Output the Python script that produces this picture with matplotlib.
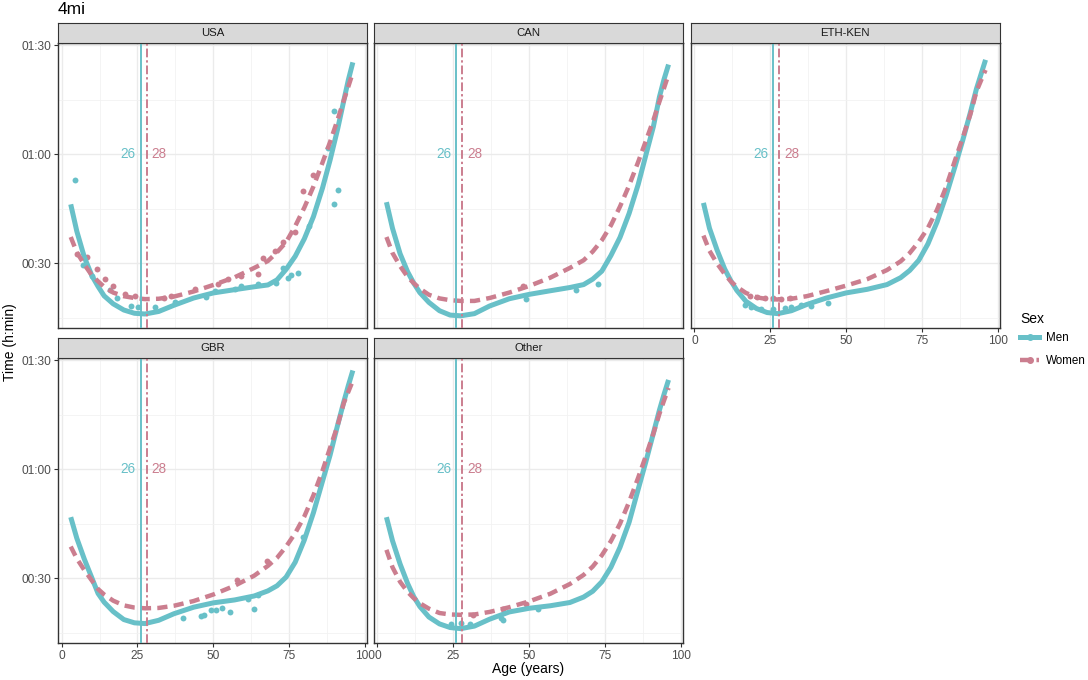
import matplotlib.pyplot as plt
from matplotlib.lines import Line2D

plt.rcParams['font.family'] = ['Liberation Sans', 'DejaVu Sans']

# facets, in the order they are drawn
panels = ['USA', 'CAN', 'ETH-KEN', 'GBR', 'Other']

# fitted curves, time in minutes
curve_age = [3, 5, 7.5, 10, 12, 14, 17, 20.5, 24, 27.5, 32, 37, 43.5, 50, 57, 63.5,
             68, 71, 74, 77, 80, 83, 86, 88.5, 91, 93, 94.5, 96]

usa_men = [46.2, 38.8, 31.6, 26.5, 23.6, 21.0, 18.8, 17.1, 16.2, 16.0, 16.7, 18.4, 20.4, 21.8,
           22.7, 23.5, 24.0, 25.4, 28.3, 31.9, 36.7, 42.8, 50.7, 58.4, 67.0, 74.7, 80.4, 85.3]
usa_women = [37.2, 33.0, 29.6, 26.6, 25.0, 23.5, 21.9, 20.9, 20.4, 20.1, 20.2, 20.8, 22.2, 24.0,
             26.1, 28.7, 30.6, 33.0, 35.8, 40.2, 45.3, 51.1, 57.7, 63.4, 69.6, 74.8, 78.6, 82.5]
can_men = [46.8, 39.6, 32.6, 27.6, 24.5, 21.9, 19.2, 16.9, 15.7, 15.5, 16.1, 18.2, 20.2, 21.4,
           22.4, 23.3, 24.1, 25.6, 27.8, 32.1, 37.1, 43.7, 51.7, 59.7, 67.6, 75.8, 80.6, 84.7]
can_women = [37.2, 32.8, 29.2, 26.2, 24.5, 23.0, 21.3, 20.3, 19.8, 19.6, 19.6, 20.4, 21.9, 23.7,
             26.0, 28.7, 30.8, 33.2, 36.3, 40.4, 45.6, 51.4, 57.9, 63.6, 69.4, 74.5, 78.2, 82.0]
eth_men = [46.6, 39.6, 33.6, 28.4, 25.2, 22.5, 19.5, 17.5, 16.4, 16.1, 16.9, 18.6, 20.4, 21.8,
           22.8, 24.1, 26.0, 28.0, 30.8, 35.3, 41.3, 48.6, 56.8, 63.9, 71.5, 78.0, 82.0, 86.0]
eth_women = [37.6, 33.4, 29.9, 27.0, 25.0, 23.5, 21.8, 20.6, 20.1, 20.0, 20.2, 20.9, 22.3, 23.8,
             25.6, 28.1, 30.5, 32.8, 35.9, 39.7, 44.7, 51.0, 58.5, 64.6, 71.0, 77.3, 80.3, 83.2]
gbr_men = [46.8, 41.0, 35.2, 30.0, 25.8, 23.4, 20.8, 18.6, 17.7, 17.5, 18.4, 20.2, 22.0, 23.2,
           24.0, 25.1, 26.5, 27.9, 30.3, 34.4, 40.5, 48.0, 56.7, 63.9, 72.2, 78.5, 83.0, 87.2]
gbr_women = [38.7, 35.4, 32.2, 29.3, 27.0, 25.5, 23.8, 22.5, 21.9, 21.7, 21.8, 22.4, 23.7, 25.5,
             27.9, 30.7, 33.4, 35.6, 38.7, 42.4, 47.0, 52.8, 59.6, 65.9, 72.1, 78.2, 81.3, 84.4]
oth_men = [46.8, 40.3, 33.9, 28.5, 24.9, 22.2, 19.3, 17.4, 16.4, 16.1, 16.8, 18.7, 20.7, 21.7,
           22.4, 23.3, 24.8, 26.4, 29.0, 33.0, 38.5, 45.4, 54.5, 62.0, 69.9, 76.3, 80.6, 84.6]
oth_women = [37.8, 33.0, 29.0, 26.2, 24.5, 23.1, 21.6, 20.4, 20.0, 19.9, 20.0, 20.7, 22.0, 23.6,
             25.7, 28.4, 30.9, 33.2, 36.3, 40.2, 45.0, 51.0, 57.7, 63.6, 69.8, 75.3, 78.9, 82.4]

# observed points (age, minutes)
usa_men_age = [4.4, 7.1, 9.9, 15.9, 18.1, 23.0, 25.2, 30.7, 37.3, 47.7, 50.4, 57.0, 59.2, 64.7,
               70.7, 72.9, 74.5, 75.6, 77.8, 81.7, 87.7, 89.7, 91.0, 89.9]
usa_men_time = [53.0, 29.6, 26.5, 22.6, 20.5, 18.3, 18.0, 17.8, 19.2, 20.7, 22.3, 22.8, 23.6, 24.2,
                24.5, 28.7, 25.9, 26.8, 27.3, 40.2, 61.8, 71.9, 50.1, 46.3]
usa_women_age = [4.9, 8.2, 11.5, 14.2, 17.0, 20.8, 24.1, 33.9, 36.1, 43.8, 51.5, 54.8, 59.2, 64.7,
                 66.3, 70.2, 72.9, 76.8, 79.5, 82.8]
usa_women_time = [32.5, 31.6, 28.4, 25.6, 23.8, 21.4, 21.0, 20.5, 21.0, 22.8, 24.2, 25.6, 26.5, 27.0,
                  31.4, 33.4, 35.7, 38.5, 50.0, 54.2]
can_men_age = [49.1, 65.6, 72.7]
can_men_time = [20.2, 22.6, 24.2]
can_women_age = [48.0]
can_women_time = [23.7]
eth_men_age = [16.6, 18.8, 22.1, 26.0, 29.8, 32.0, 35.3, 38.6, 44.1]
eth_men_time = [18.4, 18.0, 17.4, 17.4, 17.7, 18.0, 18.4, 18.2, 19.1]
eth_women_age = [18.3, 20.5, 23.2, 26.0, 28.7, 31.4]
eth_women_time = [21.0, 20.7, 20.5, 20.5, 20.2, 20.5]
gbr_men_age = [40.0, 46.0, 46.9, 49.1, 50.9, 52.9, 55.4, 61.4, 63.4, 64.7, 79.5]
gbr_men_time = [18.9, 19.5, 19.8, 21.1, 21.2, 21.9, 20.6, 24.3, 21.5, 25.4, 41.2]
gbr_women_age = [57.9, 67.8]
gbr_women_time = [29.5, 34.8]
oth_men_age = [24.4, 27.7, 30.5, 40.9, 41.4, 52.9]
oth_men_time = [17.5, 17.6, 17.5, 19.0, 18.4, 21.6]
oth_women_age = [31.6, 41.4, 49.1]
oth_women_time = [19.9, 21.5, 23.0]

peak_men = 26
peak_women = 28
x_ticks = [0, 25, 50, 75, 100]
y_ticks = [30, 60, 90]
y_tick_labels = ['00:30', '01:00', '01:30']

men_c = '#68c0c8'
women_c = '#cb7e8f'

curves = {
    'USA': (usa_men, usa_women), 'CAN': (can_men, can_women),
    'ETH-KEN': (eth_men, eth_women), 'GBR': (gbr_men, gbr_women),
    'Other': (oth_men, oth_women),
}
points = {
    'USA': (usa_men_age, usa_men_time, usa_women_age, usa_women_time),
    'CAN': (can_men_age, can_men_time, can_women_age, can_women_time),
    'ETH-KEN': (eth_men_age, eth_men_time, eth_women_age, eth_women_time),
    'GBR': (gbr_men_age, gbr_men_time, gbr_women_age, gbr_women_time),
    'Other': (oth_men_age, oth_men_time, oth_women_age, oth_women_time),
}

W, H = 1088, 680
fig = plt.figure(figsize=(W / 100, H / 100), dpi=100)


def box(l, t, w, h):
    return [l / W, 1 - (t + h) / H, w / W, h / H]


col_left = [58.3, 374.0, 691.0]
row_top = [43.3, 358.3]
pw, ph, sh = 308.5, 284.5, 20.5
slots = [(0, 0), (0, 1), (0, 2), (1, 0), (1, 1)]

for name, (r, c) in zip(panels, slots):
    ax = fig.add_axes(box(col_left[c], row_top[r], pw, ph))
    m, w = curves[name]
    ma, mt, wa, wt = points[name]
    ax.scatter(ma, mt, s=18, color=men_c, linewidths=0, zorder=3)
    ax.scatter(wa, wt, s=18, color=women_c, linewidths=0, zorder=3)
    ax.plot(curve_age, m, color=men_c, lw=3.6, solid_capstyle='butt',
            solid_joinstyle='round', zorder=4)
    ax.plot(curve_age, w, color=women_c, lw=3.2, linestyle=(0, (2.3, 1.4)),
            dash_capstyle='butt', dash_joinstyle='round', zorder=4)
    ax.axvline(peak_men, color=men_c, lw=1.4, zorder=5)
    ax.axvline(peak_women, color=women_c, lw=1.4, linestyle=(0, (4.5, 1.5, 1.2, 1.5)), zorder=5)
    ax.text(peak_men - 1.6, 60, str(peak_men), color=men_c, fontsize=9.8, ha='right', va='center')
    ax.text(peak_women + 1.6, 60, str(peak_women), color=women_c, fontsize=9.8, ha='left', va='center')

    ax.set_xlim(-1.1, 100.6)
    ax.set_ylim(12.2, 90.55)
    ax.set_xticks(x_ticks)
    ax.set_xticks([12.5, 37.5, 62.5, 87.5], minor=True)
    ax.set_yticks(y_ticks)
    ax.set_yticklabels(y_tick_labels)
    ax.set_yticks([15, 45, 75], minor=True)
    ax.grid(which='major', color='#EBEBEB', lw=1.0)
    ax.grid(which='minor', color='#F2F2F2', lw=0.6)
    ax.set_axisbelow(True)
    for s in ax.spines.values():
        s.set_color('#333333')
        s.set_linewidth(1.0)
    ax.tick_params(which='major', length=3, width=0.8, color='#333333',
                   labelcolor='#4D4D4D', labelsize=8.6, pad=2)
    ax.tick_params(which='minor', length=0)
    if c != 0:
        ax.tick_params(left=False, labelleft=False)
    if r == 0 and c != 2:
        ax.tick_params(bottom=False, labelbottom=False)

    sax = fig.add_axes(box(col_left[c], row_top[r] - sh, pw, sh))
    sax.set_facecolor('#D9D9D9')
    sax.set_xticks([])
    sax.set_yticks([])
    for s in sax.spines.values():
        s.set_color('#333333')
        s.set_linewidth(0.8)
    sax.text(0.5, 0.5, name, ha='center', va='center', fontsize=8.2, color='#1A1A1A',
             transform=sax.transAxes)

fig.text(58 / W, 1 - 10 / H, '4mi', fontsize=12.5, va='center', ha='left')
fig.text(10 / W, 1 - 342 / H, 'Time (h:min)', fontsize=10, rotation=90, va='center', ha='center')
fig.text(528 / W, 1 - 669 / H, 'Age (years)', fontsize=10, va='center', ha='center')

handles = [
    Line2D([0], [0], color=men_c, lw=3.6, marker='o', markersize=4),
    Line2D([0], [0], color=women_c, lw=3.2, marker='o', markersize=4, linestyle=(0, (2.3, 1.4))),
]
leg = fig.legend(handles, ['Men', 'Women'], title='Sex', loc='upper left',
                 bbox_to_anchor=(1012 / W, 1 - 304 / H), frameon=False, alignment='left',
                 fontsize=8.4, title_fontsize=10, handlelength=1.6, handletextpad=0.6,
                 labelspacing=0.95, borderaxespad=0.3)
leg._legend_box.sep = 4

fig.savefig('out.png', dpi=100)
